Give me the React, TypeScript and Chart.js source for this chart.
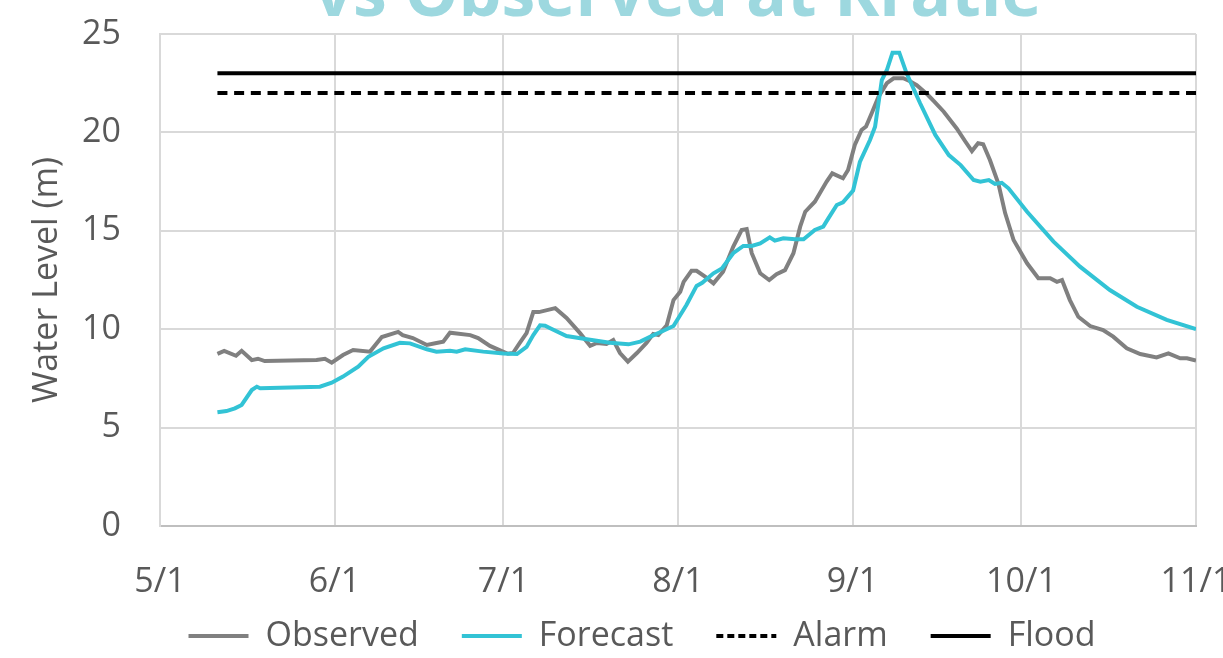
import React, { useEffect, useRef } from 'react';
import { Chart, registerables } from 'chart.js';

Chart.register(...registerables);

// Day offsets counted from May 1 (day 0)
const monthTicks = [0, 31, 61, 92, 123, 153, 184];
const monthLabels = ['5/1', '6/1', '7/1', '8/1', '9/1', '10/1', '11/1'];

const obsDay = [
  10.2, 11.4, 13.5, 14.5, 16.3, 17.4, 18.6, 27.8, 29.3, 30.5, 32.5, 34.3, 37.3, 39.4, 42.3, 43.1,
  44.9, 47.4, 49.1, 50.3, 51.5, 55.1, 56.5, 58.6, 60.9, 61.8, 62.7, 63.9, 65.1, 66.3, 67.3, 70.2,
  72.2, 74.6, 76.4, 77.6, 79.3, 80.5, 81.7, 83.1, 84.7, 86.4, 87.6, 88.5, 90.0, 91.2, 92.4, 93.0,
  94.4, 95.3, 96.8, 98.3, 100.0, 101.8, 103.3, 104.2, 105.1, 106.6, 108.2, 109.5, 111.0, 112.5,
  113.7, 114.6, 116.3, 118.4, 119.4, 121.3, 122.2, 123.4, 124.6, 125.4, 126.4, 127.6, 129.1,
  130.3, 132.0, 133.2, 134.4, 136.4, 137.4, 139.2, 141.5, 143.0, 144.2, 145.3, 146.2, 147.4,
  148.9, 150.1, 151.6, 154.0, 156.0, 158.1, 159.3, 160.2, 161.6, 163.1, 165.2, 167.5, 169.3,
  171.7, 174.1, 177.0, 179.1, 181.2, 182.4, 184.0,
];
const obsLevel = [
  8.75, 8.9, 8.65, 8.9, 8.43, 8.5, 8.38, 8.43, 8.5, 8.3, 8.69, 8.94, 8.86, 9.6, 9.86, 9.7,
  9.55, 9.2, 9.3, 9.37, 9.82, 9.7, 9.55, 9.15, 8.86, 8.75, 8.79, 9.3, 9.8, 10.87, 10.87, 11.07,
  10.57, 9.8, 9.16, 9.3, 9.25, 9.45, 8.79, 8.35, 8.79, 9.3, 9.76, 9.7, 10.2, 11.48, 11.9, 12.4,
  12.97, 12.97, 12.67, 12.33, 12.92, 14.19, 15.04, 15.09, 13.86, 12.84, 12.5, 12.8, 13.0, 13.86,
  15.21, 15.97, 16.48, 17.5, 17.92, 17.67, 18.09, 19.36, 20.12, 20.3, 20.97, 21.8, 22.5,
  22.75, 22.75, 22.6, 22.4, 21.9, 21.6, 21.05, 20.2, 19.55, 19.05, 19.45, 19.4, 18.6,
  17.4, 15.9, 14.53, 13.35, 12.59, 12.59, 12.41, 12.5, 11.48, 10.63, 10.16, 9.96, 9.62,
  9.03, 8.74, 8.57, 8.77, 8.52, 8.52, 8.4,
];

const fcDay = [
  10.2, 11.8, 13.3, 14.5, 16.3, 17.2, 17.8, 28.4, 30.5, 32.5, 35.2, 37.0, 39.7, 42.6, 44.4, 47.4,
  49.1, 51.5, 52.7, 54.2, 57.4, 61.0, 63.4, 65.1, 66.3, 67.5, 68.4, 69.3, 72.2, 75.8, 79.9, 83.2,
  85.3, 87.3, 89.4, 91.2, 93.5, 95.3, 96.3, 98.3, 99.8, 101.8, 103.6, 105.1, 106.6, 108.3, 109.2,
  110.7, 112.8, 114.3, 116.3, 117.8, 118.7, 120.2, 121.3, 123.1, 124.3, 126.1, 127.0, 128.2, 129.1,
  130.1, 131.3, 132.6, 135.0, 137.7, 140.1, 142.2, 144.5, 145.7, 147.2, 148.3, 149.5, 150.7,
  154.0, 158.7, 163.4, 168.7, 173.5, 178.8, 184.0,
];
const fcLevel = [
  5.78, 5.84, 5.98, 6.15, 6.91, 7.08, 7.0, 7.08, 7.28, 7.59, 8.1, 8.6, 9.03, 9.31, 9.28, 8.98,
  8.86, 8.91, 8.86, 8.98, 8.86, 8.77, 8.74, 9.1, 9.7, 10.2, 10.18, 10.05, 9.65, 9.49, 9.31, 9.23,
  9.37, 9.65, 9.92, 10.16, 11.23, 12.2, 12.36, 12.84, 13.09, 13.86, 14.23, 14.23, 14.36, 14.67, 14.5,
  14.62, 14.57, 14.57, 15.04, 15.21, 15.63, 16.31, 16.45, 17.05, 18.5, 19.61, 20.29, 22.66, 23.17,
  24.05, 24.05, 23.0, 21.48, 19.87, 18.85, 18.34, 17.58, 17.5, 17.58, 17.38, 17.44, 17.16,
  15.97, 14.45, 13.18, 11.99, 11.14, 10.47, 10.0,
];

const alarmLevel = 22;
const floodLevel = 23;
const refLineDays = [10.2, 184];

const seriesNames = ['Observed', 'Forecast', 'Alarm', 'Flood'];
const titleText = 'vs Observed at Kratie';
const yAxisTitle = 'Water Level (m)';

const FONT = "'Open Sans', sans-serif";
const TEXT = '#595959';

const toPoints = (xs: number[], ys: number[]) => xs.map((x, i) => ({ x, y: ys[i] }));

const cutTitle = {
  id: 'cutTitle',
  afterDraw(chart: any) {
    const { ctx, chartArea } = chart;
    ctx.save();
    ctx.font = `bold 68px ${FONT}`;
    ctx.fillStyle = '#9dd8df';
    ctx.textAlign = 'center';
    ctx.textBaseline = 'alphabetic';
    ctx.fillText(titleText, (chartArea.left + chartArea.right) / 2, 16);
    ctx.restore();
  },
};

// pull the legend row up so it sits just under the month labels
const liftLegend = {
  id: 'liftLegend',
  afterLayout(chart: any) {
    const lg = chart.legend;
    if (lg) {
      lg.top -= 30;
      lg.bottom -= 30;
    }
  },
};

export default function App() {
  const ref = useRef<HTMLCanvasElement>(null);

  useEffect(() => {
    if (!ref.current) return;
    Chart.defaults.font.family = FONT;
    const chart = new Chart(ref.current, {
      type: 'line',
      data: {
        datasets: [
          {
            label: seriesNames[0],
            data: toPoints(obsDay, obsLevel),
            borderColor: '#808080',
            backgroundColor: '#808080',
            borderWidth: 4,
            pointRadius: 0,
            tension: 0,
            order: 4,
          },
          {
            label: seriesNames[1],
            data: toPoints(fcDay, fcLevel),
            borderColor: '#32c3d5',
            backgroundColor: '#32c3d5',
            borderWidth: 4,
            pointRadius: 0,
            tension: 0,
            order: 3,
          },
          {
            label: seriesNames[2],
            data: toPoints(refLineDays, refLineDays.map(() => alarmLevel)),
            borderColor: '#000000',
            backgroundColor: '#000000',
            borderWidth: 4,
            borderDash: [10, 6.7],
            pointRadius: 0,
            order: 2,
          },
          {
            label: seriesNames[3],
            data: toPoints(refLineDays, refLineDays.map(() => floodLevel)),
            borderColor: '#000000',
            backgroundColor: '#000000',
            borderWidth: 4,
            pointRadius: 0,
            order: 1,
          },
        ],
      },
      options: {
        animation: false,
        responsive: false,
        devicePixelRatio: 1,
        layout: { padding: { top: 34, left: 0, right: 0, bottom: 0 } },
        plugins: {
          title: { display: false },
          tooltip: { enabled: false },
          legend: {
            position: 'bottom',
            labels: {
              usePointStyle: true,
              pointStyle: 'line',
              pointStyleWidth: 60,
              padding: 43,
              color: TEXT,
              font: { size: 34, family: FONT },
              sort: (a: any, b: any) => a.datasetIndex - b.datasetIndex,
              generateLabels: (c: any) => {
                const items = (Chart.defaults.plugins.legend.labels as any).generateLabels(c);
                return items.map((it: any) => {
                  const ds = c.data.datasets[it.datasetIndex];
                  return {
                    ...it,
                    lineDash: ds.borderDash ? [7, 4] : [],
                    lineWidth: 4,
                    strokeStyle: ds.borderColor,
                    pointStyle: 'line',
                  };
                });
              },
            },
          },
        },
        scales: {
          x: {
            type: 'linear',
            min: 0,
            max: 184,
            afterBuildTicks: (s: any) => {
              s.ticks = monthTicks.map((v) => ({ value: v }));
            },
            afterFit: (s: any) => {
              s.height = 80;
            },
            ticks: {
              autoSkip: false,
              maxRotation: 0,
              padding: 36,
              color: TEXT,
              font: { size: 34, family: FONT },
              callback: (v: any) => {
                const i = monthTicks.indexOf(Number(v));
                return i >= 0 ? monthLabels[i] : '';
              },
            },
            grid: { color: '#d9d9d9', lineWidth: 2, drawTicks: false },
            border: { color: '#bfbfbf', width: 2 },
          },
          y: {
            min: 0,
            max: 25,
            afterFit: (s: any) => {
              s.width = 160;
            },
            ticks: {
              stepSize: 5,
              padding: 13,
              color: TEXT,
              font: { size: 34, family: FONT },
            },
            grid: {
              color: '#d9d9d9',
              lineWidth: 2,
              drawTicks: true,
              tickLength: 26,
              tickColor: 'rgba(0,0,0,0)',
            },
            border: { color: '#d9d9d9', width: 2 },
            title: {
              display: true,
              text: yAxisTitle,
              color: TEXT,
              font: { size: 34, family: FONT },
              padding: { top: 27, bottom: 0 },
            },
          },
          y2: {
            type: 'linear',
            position: 'right',
            afterFit: (s: any) => {
              s.width = 88;
            },
            ticks: { display: false },
            grid: { display: false, drawTicks: false },
            border: { display: false },
          },
        },
      },
      plugins: [cutTitle, liftLegend],
    } as any);
    return () => chart.destroy();
  }, []);

  return (
    <div
      style={{
        position: 'fixed',
        left: 0,
        top: 0,
        width: 1223,
        height: 658,
        overflow: 'hidden',
        background: '#ffffff',
      }}
    >
      <canvas ref={ref} width={1284} height={693} style={{ display: 'block' }} />
    </div>
  );
}
